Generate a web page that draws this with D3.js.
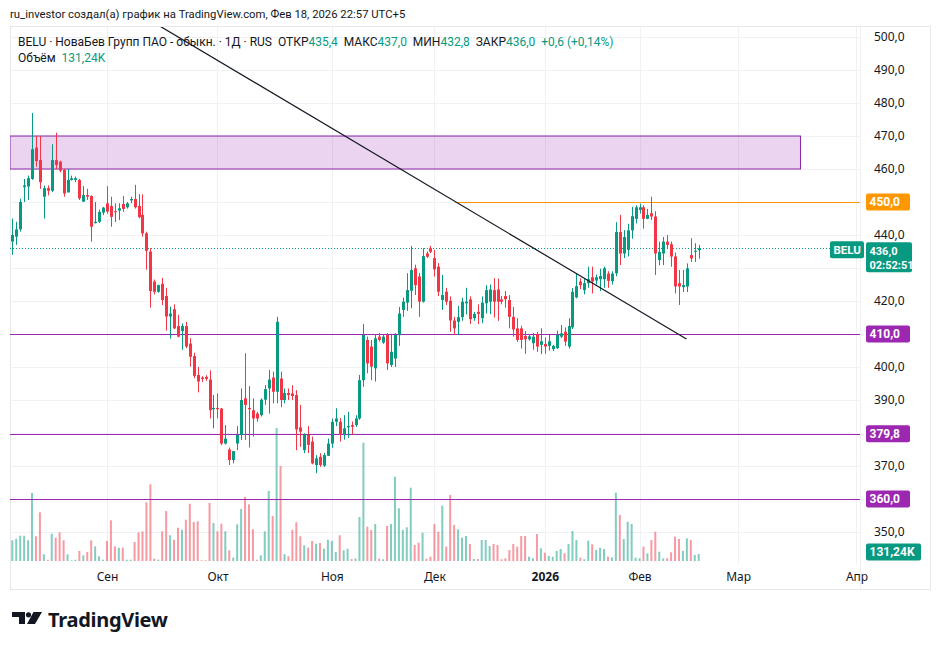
<!DOCTYPE html>
<html>
<head>
<meta charset="utf-8">
<script src="https://cdn.jsdelivr.net/npm/d3@7/dist/d3.min.js"></script>
<style>
  html, body { margin: 0; padding: 0; background: #fff; }
  svg { display: block; font-family: Roboto, "Noto Sans", sans-serif; }
</style>
</head>
<body>
<svg id="chart" width="941" height="650"></svg>
<script>
// ---- data: daily candles BELU ----
const opens = [438,439.5,441.7,454.5,454.7,457,466.5,462.7,451.6,454.2,453.4,462.7,462.2,459.7,452.9,456.7,456.7,456.7,450.1,452.1,
  451.8,443.6,444,446.8,449.6,448.8,447.2,447.4,449.4,448.4,450.5,450.9,448.8,446.1,440.5,435,425.9,422.8,425.2,421.5,
  415.3,417.5,412.4,410.9,412.4,407.1,403.3,397.6,396.8,397,396.2,387.2,387.6,387.4,376.8,375,371.8,376.8,379.4,390.5,
  387.6,386.9,385.9,385.4,390.1,393.5,396.8,392.5,396.5,390,392.1,392,391.5,381.7,374.8,379.4,377.4,370.3,372.8,370.1,
  373.1,376.8,383.4,383.4,379.4,381.7,382.4,382.4,384.4,396,408.2,406.2,399.6,409.2,407.4,409.7,400.6,402.6,409.7,417.3,
  419.5,423.1,429.9,427.4,419.8,434.4,436,433,430.4,420.3,422.8,420.1,414.1,413.7,415.1,419.3,420.5,414.8,416.7,414.8,
  419.3,419.8,423.3,423.5,420.5,421.5,420.3,415.2,411.7,411.7,409.4,408.4,407.2,410,406.7,407,406.4,405.4,405.7,409.2,
  410.7,406.2,412,421.1,425.9,423.3,425.4,427.2,426.2,426.6,426.6,428.3,426,428.4,440.9,434.4,435.5,441.4,444.9,447.6,
  448.4,444.9,446.6,445.6,432.4,434.4,438,437.2,433.5,425.4,424.2,424.4,433.9,434.9,435.4];
const highs = [445,444,451,457,458,477,470,470,455,455,467.5,471,462.5,460,460,458,457.7,457,454.8,454,
  452,450,447.7,448.5,454.8,451.6,449.6,449.6,451.8,450,451.6,455.2,452.4,452.3,441,436,426.5,425,427,424,
  418.3,419,415.8,413.2,413.7,408.7,404.3,400,397.2,397.5,399,391.5,392,387.6,382.4,375.6,374.5,382.1,393.5,404.2,
  394.2,390.5,386.4,390.5,394.5,399.1,398.6,415.2,398.6,393.5,393.5,394.5,393,388.5,379.9,382.1,378.9,373.3,373.9,374,
  378.3,384.4,387.5,384.5,385.4,386.4,383.5,385.4,397.6,413,409.2,408.2,410,410.3,409.8,410.3,409.7,410.3,418.2,421,
  428.4,436.7,431,428.5,436,435,436.7,435.5,431.5,427.9,424,421.4,415.2,418.5,421,424,421.4,416.7,419,421.4,
  424.8,425,426.9,426.8,421.5,423,421.8,418.2,414.8,412.5,410.9,410,410.3,410.6,411.7,409,409.8,406.7,411,412.7,
  412,414.8,423.9,428.4,426.9,426.9,430.4,430.4,428,429.8,430.4,429,429,443.9,446.1,441.5,443.4,448.5,449,449.5,
  449,447.9,451.6,447.2,438,439.4,440,438,434.7,429.4,429.4,431.4,439,437.5,437];
const lows = [434,437,441,450,450.6,456.7,460.7,454,445,452,453,460,459,451.6,452.9,456.5,456,450.6,450,450.6,
  438,443.5,443.6,446,446.4,442.5,443.9,444.5,447,448,449.6,448,445,439.5,429.5,418,422,422.5,418.8,411,
  408.6,411.5,409,405.2,405.7,400.1,396.6,392.3,395.5,395.8,384.4,381.4,384.4,376.3,376.5,370.3,370.8,374.8,377.9,377.9,
  375.6,378.9,383.4,385,388.5,385.9,389,389,387.8,389,390,390,374.8,375.8,373.9,373.9,370.5,367.8,369.7,369.7,
  373,375.5,382.1,377.4,378,378.5,379.5,381.8,384,394,398.1,396,395.6,407.7,407,399.1,400,400,406.4,415.2,
  417,417.8,421.8,415.2,419.5,433,434.5,427.4,421.5,417.3,418.8,410.7,409.7,409.7,414,416,413,414,413,413.3,
  416.2,416,415,414,419,418,411.7,409.2,407.6,405.6,404,408,405.2,404.6,403.9,404,405,404.8,405.5,408.8,
  406.4,405.6,411.5,420.8,423.6,422,424,422.3,425,423,424,424,425,427.5,430.9,433,433.5,438.9,443.5,446.5,
  441.9,444.8,444.5,427.9,430.8,430.9,436,430.4,422.3,418.8,422.7,422.7,431.8,431.8,432.8];
const closes = [440,441.7,450,455,457.2,466,462.4,456,454.2,453.4,462.7,461.2,459.5,452.6,456.7,457.2,457.2,451.1,452.1,451.6,
  442.5,444,447,448.3,447.1,445.5,446.9,448.1,447.9,449.6,450.9,448.4,445.4,440.5,435.2,423,422.8,424.8,420.3,415.3,
  416.2,411.7,409.2,412.4,406.2,403.1,397.3,395.6,396.4,396.4,386.9,387.6,387.2,376.8,378.3,371.8,374.5,379.4,390,388.5,
  387.2,384.4,384.4,390.1,393.3,396.2,392.5,413.7,390,392.1,391.5,391.2,381.1,380.4,379.4,376.4,370.8,372.3,370.3,373.3,
  376.8,383.4,384.4,379.4,381.4,382.1,381.9,384.4,396,409.7,401.1,400.1,408.7,408.2,409.2,401.1,404.6,409.7,416.2,419.8,
  423.3,429.4,424.8,419.8,433.6,433.4,434.9,429.6,422.8,421.8,419.8,414.1,411.7,415.1,419.8,419.8,414.5,416.1,416.1,419.5,
  423.3,423.5,419.8,419.8,419.8,420.5,415.2,411.4,408.2,408.2,408.4,409.3,409.2,406.2,407.8,406.2,407.8,406.4,409.7,410.2,
  407.7,412.4,422.8,424.5,424.8,425.4,426.6,425.9,427.2,427.6,429.9,426.1,428.3,440.9,434.4,439.4,441.4,445.7,448.4,448.4,
  444.9,446.1,445.6,434.4,434.9,438,437,433.5,424.4,424.4,424.8,429.9,432.9,435.2,436];
// volume, thousands
const volumes = [388,418,474,474,388,1275,463,913,126,24,512,437,538,388,126,13,24,188,107,169,
  388,276,88,24,375,763,276,249,249,24,24,356,538,557,1101,1438,43,24,557,938,
  482,399,624,587,774,1074,731,744,13,13,1088,713,557,699,557,201,62,688,975,1200,
  1063,594,24,107,557,1313,844,2494,1781,126,88,587,726,463,294,249,375,324,338,231,
  399,375,169,482,201,231,38,47,825,2218,643,581,694,43,32,656,694,1581,988,581,
  632,1374,300,343,531,43,81,694,549,1037,268,1238,675,594,437,469,319,38,38,394,
  394,281,319,300,32,51,206,319,268,469,469,81,51,506,238,156,94,81,188,225,
  144,319,563,394,62,32,381,313,206,249,225,81,69,1281,863,413,737,694,62,51,
  268,144,394,549,174,51,51,163,456,413,188,426,394,113,131.24];

// time axis
const monthIdx    = [24, 52, 81, 107, 135, 159, 184, 214];
const monthLabels = ['Сен', 'Окт', 'Ноя', 'Дек', '2026', 'Фев', 'Мар', 'Апр'];
const priceTicks  = d3.range(350, 501, 10);

// drawings
const zoneBand   = [460, 470];          // purple box
const zoneSpan   = [-0.6, 199.8];
const levels     = [410, 379.8, 360];   // purple horizontal lines
const orangeLvl  = 450;
const orangeFrom = 112.4;
const trendLine  = [[37.4, 503.3], [170.9, 408.5]];
const lastPrice  = 436.0;

// ---- layout ----
const PANE = { left: 10, right: 860, top: 27, bottom: 564 };
const AXIS_RIGHT = 930, FRAME_BOTTOM = 589;
const GREEN = '#089981', RED = '#f23645', PURPLE = '#9c27b0', ORANGE = '#ff9800';
const AXIS_FONT = '"Noto Sans", sans-serif';
const fmt = v => v.toFixed(1).replace('.', ',');

const svg = d3.select('#chart');
const x  = d3.scaleLinear().domain([0, 174]).range([12.3, 698.7]);
const y  = d3.scaleLinear().domain([350, 500]).range([532, 37]);
const yv = d3.scaleLinear().domain([0, 2500]).range([561, 427.7]);

const candles = opens.map((o, i) => ({ i, o, h: highs[i], l: lows[i], c: closes[i], v: volumes[i], up: closes[i] >= o }));

// frame
svg.append('rect').attr('x', PANE.left + 0.5).attr('y', PANE.top - 0.5)
  .attr('width', AXIS_RIGHT - PANE.left).attr('height', FRAME_BOTTOM - PANE.top + 1)
  .attr('fill', 'none').attr('stroke', '#e6e8ee');
svg.append('line').attr('x1', PANE.right + 0.5).attr('x2', PANE.right + 0.5)
  .attr('y1', PANE.top).attr('y2', FRAME_BOTTOM).attr('stroke', '#eef0f4');

svg.append('clipPath').attr('id', 'pane').append('rect')
  .attr('x', PANE.left).attr('y', PANE.top).attr('width', PANE.right - PANE.left).attr('height', PANE.bottom - PANE.top);

const pane = svg.append('g').attr('clip-path', 'url(#pane)');

// grid
pane.selectAll('.hg').data(priceTicks).join('line')
  .attr('x1', PANE.left).attr('x2', PANE.right)
  .attr('y1', d => Math.round(y(d)) + 0.5).attr('y2', d => Math.round(y(d)) + 0.5)
  .attr('stroke', '#f0f1f4');
pane.selectAll('.vg').data(monthIdx).join('line')
  .attr('x1', d => Math.round(x(d)) + 0.5).attr('x2', d => Math.round(x(d)) + 0.5)
  .attr('y1', PANE.top).attr('y2', PANE.bottom)
  .attr('stroke', '#f0f1f4');

// volume
pane.selectAll('.vol').data(candles).join('rect')
  .attr('x', d => x(d.i) - 1).attr('width', 2)
  .attr('y', d => yv(d.v)).attr('height', d => yv(0) - yv(d.v))
  .attr('fill', d => d.up ? 'rgba(8,153,129,0.5)' : 'rgba(242,54,69,0.5)');

// purple zone
pane.append('rect')
  .attr('x', x(zoneSpan[0])).attr('width', x(zoneSpan[1]) - x(zoneSpan[0]))
  .attr('y', y(zoneBand[1])).attr('height', y(zoneBand[0]) - y(zoneBand[1]))
  .attr('fill', 'rgba(156,39,176,0.2)').attr('stroke', '#8e24aa').attr('stroke-width', 1);

// levels
pane.selectAll('.lvl').data(levels).join('line')
  .attr('x1', PANE.left).attr('x2', PANE.right)
  .attr('y1', d => Math.round(y(d)) + 0.5).attr('y2', d => Math.round(y(d)) + 0.5)
  .attr('stroke', PURPLE);
pane.append('line')
  .attr('x1', x(orangeFrom)).attr('x2', PANE.right)
  .attr('y1', Math.round(y(orangeLvl)) + 0.5).attr('y2', Math.round(y(orangeLvl)) + 0.5)
  .attr('stroke', ORANGE);

// last price dotted
pane.append('line')
  .attr('x1', PANE.left).attr('x2', PANE.right)
  .attr('y1', Math.round(y(lastPrice)) + 0.5).attr('y2', Math.round(y(lastPrice)) + 0.5)
  .attr('stroke', GREEN).attr('stroke-dasharray', '1,2');

// candles
const cg = pane.append('g');
cg.selectAll('.wick').data(candles).join('line')
  .attr('x1', d => Math.round(x(d.i)) + 0.5).attr('x2', d => Math.round(x(d.i)) + 0.5)
  .attr('y1', d => y(d.h)).attr('y2', d => y(d.l))
  .attr('stroke', d => d.up ? GREEN : RED);
cg.selectAll('.body').data(candles).join('rect')
  .attr('x', d => Math.round(x(d.i)) - 1).attr('width', 3)
  .attr('y', d => y(Math.max(d.o, d.c)))
  .attr('height', d => Math.max(1, Math.abs(y(d.o) - y(d.c))))
  .attr('fill', d => d.up ? GREEN : RED);

// trend line
pane.append('line')
  .attr('x1', x(trendLine[0][0])).attr('y1', y(trendLine[0][1]))
  .attr('x2', x(trendLine[1][0])).attr('y2', y(trendLine[1][1]))
  .attr('stroke', '#131722').attr('stroke-width', 1.2);

// price axis - skip ticks hidden under the tags on the right
const tagged = [orangeLvl, lastPrice - 3, ...levels];
const shownTicks = priceTicks.filter(t => tagged.every(v => Math.abs(y(t) - y(v)) > 12));
const pAxis = svg.append('g').attr('transform', `translate(${PANE.right},0)`)
  .call(d3.axisRight(y).tickValues(shownTicks).tickFormat(fmt).tickSize(0).tickPadding(14));
pAxis.select('.domain').remove();
pAxis.selectAll('text').attr('font-size', 12).attr('fill', '#131722').attr('font-family', AXIS_FONT);

// time axis
const tAxis = svg.append('g').attr('transform', `translate(0,${PANE.bottom})`)
  .call(d3.axisBottom(x).tickValues(monthIdx).tickFormat((d, i) => monthLabels[i]).tickSize(0).tickPadding(8));
tAxis.select('.domain').remove();
tAxis.selectAll('text').attr('font-size', 12).attr('fill', '#131722').attr('font-family', AXIS_FONT)
  .attr('font-weight', (d, i) => monthLabels[i] === '2026' ? 700 : 400);

// axis tags
function tag(xp, yc, w, h, color, lines, fs = 12) {
  const g = svg.append('g');
  g.append('rect').attr('x', xp).attr('y', yc - h / 2).attr('width', w).attr('height', h).attr('rx', 2).attr('fill', color);
  lines.forEach((t, k) => {
    g.append('text').attr('x', xp + 3.5).attr('y', yc - h / 2 + 12.5 + k * 14)
      .attr('font-size', fs).attr('font-weight', 700).attr('fill', '#fff').text(t);
  });
}
tag(866, y(orangeLvl), 44, 17, ORANGE, [fmt(orangeLvl)]);
levels.forEach(v => tag(866, y(v), 44, 17, PURPLE, [fmt(v)]));
tag(866, y(lastPrice) + 9, 46, 30, GREEN, [fmt(lastPrice), '02:52:51'], 11);
tag(830, y(lastPrice) + 1.5, 34, 17, GREEN, ['BELU'], 11.5);
tag(866, yv(0) - 9, 55, 17, GREEN, ['131,24K']);

// header
svg.append('text').attr('x', 10).attr('y', 18).attr('font-size', 11.3).attr('fill', '#131722')
  .text('ru_investor создал(а) график на TradingView.com, Фев 18, 2026 22:57 UTC+5');

const legend = svg.append('text').attr('x', 18).attr('y', 46).attr('font-size', 12).attr('fill', '#131722')
  .style('white-space', 'pre');
const legendParts = [
  ['BELU · НоваБев Групп ПАО - обыкн. · 1Д · RUS  ОТКР', '#131722'], ['435,4', GREEN],
  ['  МАКС', '#131722'], ['437,0', GREEN], ['  МИН', '#131722'], ['432,8', GREEN],
  ['  ЗАКР', '#131722'], ['436,0', GREEN], ['  +0,6 (+0,14%)', GREEN]
];
legendParts.forEach(([t, c]) => legend.append('tspan').attr('fill', c).text(t));

const volLegend = svg.append('text').attr('x', 18).attr('y', 62).attr('font-size', 12).style('white-space', 'pre');
volLegend.append('tspan').attr('fill', '#131722').text('Объём  ');
volLegend.append('tspan').attr('fill', GREEN).text('131,24K');

// TradingView logo
const logo = svg.append('g').attr('fill', '#131722');
logo.append('path').attr('d', 'M12,612 L25,612 L25,624 L19,624 L19,617 L12,617 Z');
logo.append('circle').attr('cx', 28.5).attr('cy', 614.8).attr('r', 2.6);
logo.append('path').attr('d', 'M33.5,612 L42,612 L35,624 L27,624 Z');
svg.append('text').attr('x', 48).attr('y', 627).attr('font-size', 20).attr('font-weight', 700)
  .attr('font-family', AXIS_FONT).attr('fill', '#131722').attr('letter-spacing', -0.3).text('TradingView');
</script>
</body>
</html>
